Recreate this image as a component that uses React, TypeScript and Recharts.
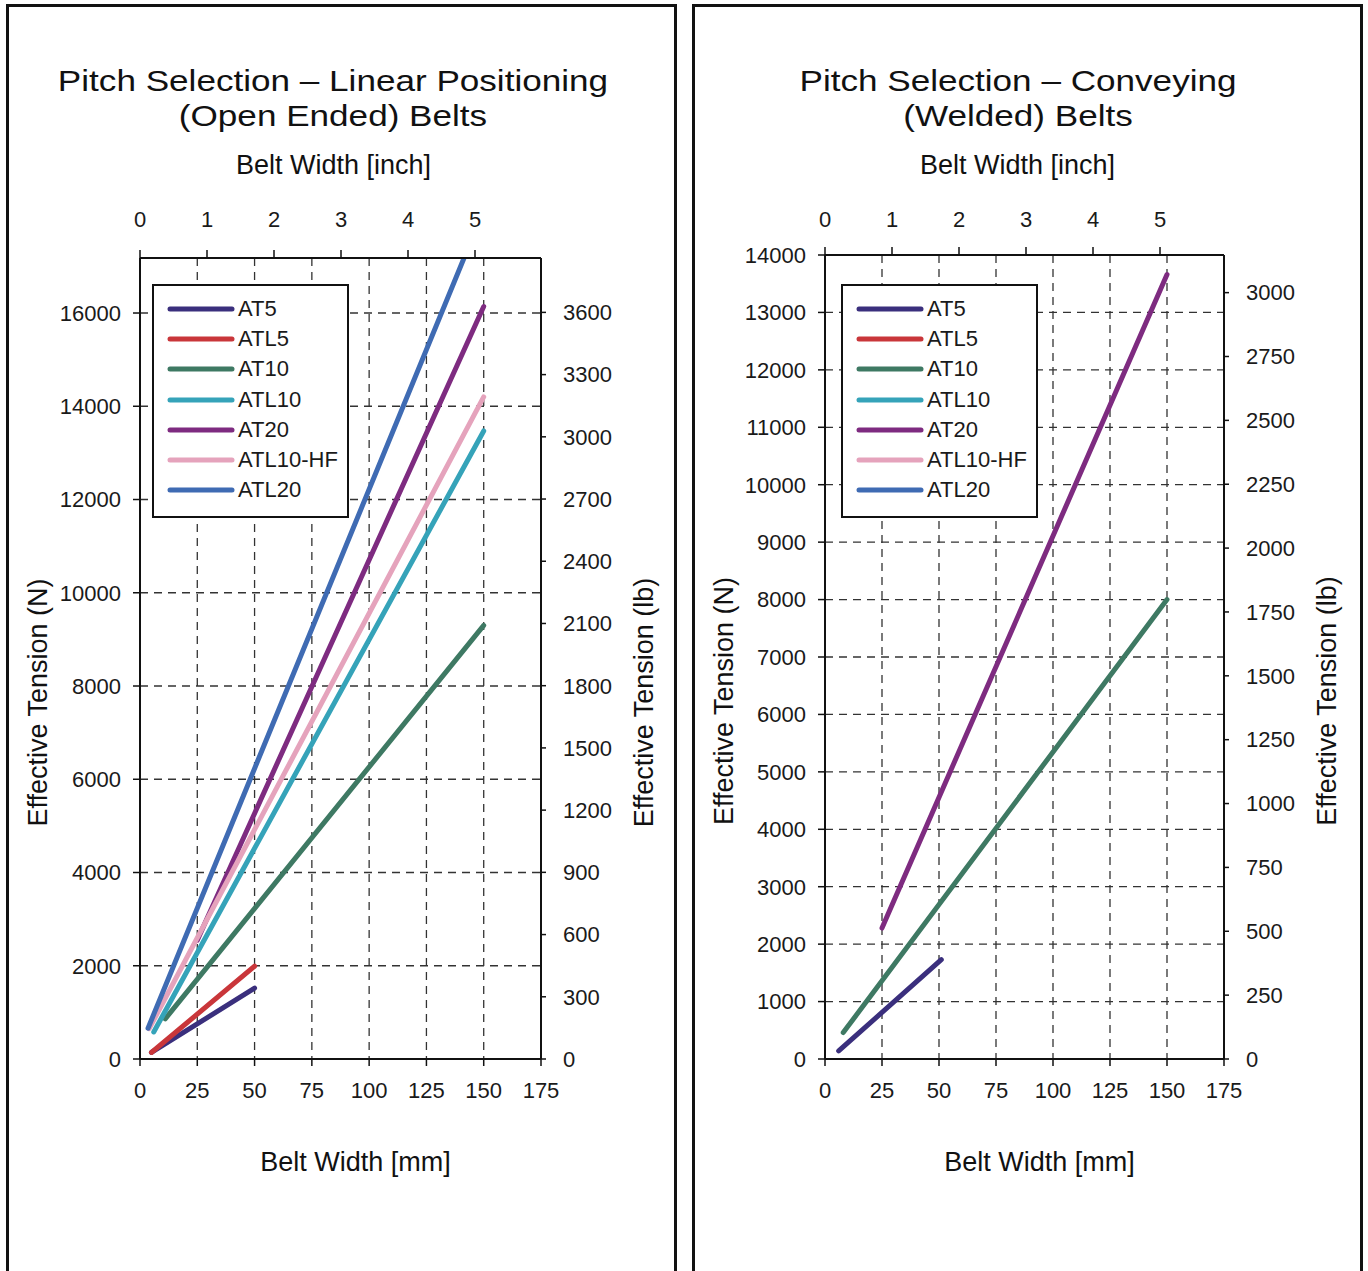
import React from 'react';
import {
  LineChart,
  Line,
  XAxis,
  YAxis,
  CartesianGrid,
  Legend,
  Label,
} from 'recharts';

const FONT = '"Liberation Sans", Arial, Helvetica, sans-serif';
const N_PER_LB = 4.44822;

const mmTicks = [0, 25, 50, 75, 100, 125, 150, 175];
const inchTicks = [0, 1, 2, 3, 4, 5];
const linearNTicks = [0, 2000, 4000, 6000, 8000, 10000, 12000, 14000, 16000];
const linearLbTicks = [0, 300, 600, 900, 1200, 1500, 1800, 2100, 2400, 2700, 3000, 3300, 3600];
const conveyNTicks = [0, 1000, 2000, 3000, 4000, 5000, 6000, 7000, 8000, 9000, 10000, 11000, 12000, 13000, 14000];
const conveyLbTicks = [0, 250, 500, 750, 1000, 1250, 1500, 1750, 2000, 2250, 2500, 2750, 3000];

const seriesNames = ['AT5', 'ATL5', 'AT10', 'ATL10', 'AT20', 'ATL10-HF', 'ATL20'];
const seriesColors = ['#3a2f7d', '#c9363a', '#3e7963', '#35a3b9', '#7e2b80', '#e5a3bc', '#3f6bb3'];

// linear positioning (open ended) - belt width mm / effective tension N
const lpAT5Mm = [5, 50];
const lpAT5N = [140, 1520];
const lpATL5Mm = [5, 50];
const lpATL5N = [140, 1990];
const lpAT10Mm = [11, 150];
const lpAT10N = [860, 9300];
const lpATL10Mm = [6, 150];
const lpATL10N = [580, 13470];
const lpAT20Mm = [25, 150];
const lpAT20N = [2550, 16140];
const lpATL10HFMm = [4, 150];
const lpATL10HFN = [650, 14200];
const lpATL20Mm = [3.5, 143];
const lpATL20N = [660, 17370];

// conveying (welded)
const cvAT5Mm = [6, 51];
const cvAT5N = [140, 1730];
const cvAT10Mm = [8, 150];
const cvAT10N = [460, 8000];
const cvAT20Mm = [25, 150];
const cvAT20N = [2280, 13660];

const zip = (mm: number[], n: number[]) => mm.map((m, i) => ({ mm: m, n: n[i] }));

const linearSeries = [
  { name: 'AT5', data: zip(lpAT5Mm, lpAT5N) },
  { name: 'ATL5', data: zip(lpATL5Mm, lpATL5N) },
  { name: 'AT10', data: zip(lpAT10Mm, lpAT10N) },
  { name: 'ATL10', data: zip(lpATL10Mm, lpATL10N) },
  { name: 'AT20', data: zip(lpAT20Mm, lpAT20N) },
  { name: 'ATL10-HF', data: zip(lpATL10HFMm, lpATL10HFN) },
  { name: 'ATL20', data: zip(lpATL20Mm, lpATL20N) },
];

const conveySeries = [
  { name: 'AT5', data: zip(cvAT5Mm, cvAT5N) },
  { name: 'AT10', data: zip(cvAT10Mm, cvAT10N) },
  { name: 'AT20', data: zip(cvAT20Mm, cvAT20N) },
];

// rows for the top (inch) axis
const inchRows = inchTicks.map((i) => ({ inch: i }));

const colorOf = (name: string) => seriesColors[seriesNames.indexOf(name)];

function LegendBox() {
  return (
    <div
      style={{
        width: 193,
        height: 222,
        border: '2px solid #111',
        background: '#fff',
        boxSizing: 'content-box',
        fontFamily: FONT,
        paddingTop: 8,
      }}
    >
      {seriesNames.map((name, i) => (
        <div key={name} style={{ display: 'flex', alignItems: 'center', height: 30.2 }}>
          <svg width={84} height={10} style={{ flex: 'none' }}>
            <line x1={16} y1={5} x2={78} y2={5} stroke={seriesColors[i]} strokeWidth={5} strokeLinecap="round" />
          </svg>
          <span style={{ fontSize: 22, color: '#1a1a1a', lineHeight: '22px' }}>{name}</span>
        </div>
      ))}
    </div>
  );
}

function AxisTitle(props: any) {
  const { viewBox, value, dx = 0, dy = 0, vertical = false, anchorX } = props;
  const x = anchorX !== undefined ? viewBox.x + anchorX : viewBox.x + viewBox.width / 2 + dx;
  const y = viewBox.y + (vertical ? viewBox.height / 2 : 0) + dy;
  return (
    <text
      x={x}
      y={y}
      textAnchor="middle"
      dominantBaseline="central"
      transform={vertical ? `rotate(-90, ${x}, ${y})` : undefined}
      style={{ fontSize: 27, fill: '#111', fontFamily: FONT }}
    >
      {value}
    </text>
  );
}

interface PanelProps {
  left: number;
  title1: string;
  title2: string;
  series: { name: string; data: { mm: number; n: number }[] }[];
  nMax: number;
  nTicks: number[];
  lbTicks: number[];
  leftAxisW: number;
  rightAxisW: number;
  topAxisH: number;
  inchMax: number;
  legendLeft: number;
}

const tickStyle = { fontSize: 22, fill: '#1a1a1a', fontFamily: FONT };
const axisLine = { stroke: '#111', strokeWidth: 2 };
const tickLine = { stroke: '#111', strokeWidth: 1.5 };

// the source font is wider than Liberation Sans, so the title is stretched a little
const titleLine = (top: number): React.CSSProperties => ({
  position: 'absolute',
  left: 0,
  top,
  width: 600,
  height: 34,
  textAlign: 'center',
  fontFamily: FONT,
  fontSize: 30,
  lineHeight: '34px',
  color: '#111',
  whiteSpace: 'nowrap',
  transform: 'scaleX(1.17)',
  transformOrigin: '50% 50%',
});

function Panel(p: PanelProps) {
  return (
    <div style={{ position: 'absolute', left: p.left, top: 0, width: 684, height: 1271 }}>
      <div
        style={{
          position: 'absolute',
          left: p.left === 0 ? 6 : 8,
          top: 4,
          width: 665,
          height: 1290,
          border: '3px solid #111',
        }}
      />
      <div style={{ position: 'absolute', left: p.left === 0 ? 33 : 34, top: 0 }}>
        <div style={titleLine(64)}>{p.title1}</div>
        <div style={titleLine(99)}>{p.title2}</div>
      </div>
      <div style={{ position: 'absolute', left: 0, top: 0 }}>
        <LineChart
          width={684}
          height={1271}
          data={inchRows}
          margin={{ top: 140, right: 0, bottom: 112, left: 0 }}
          style={{ fontFamily: FONT }}
        >
          <CartesianGrid
            xAxisId="mm"
            yAxisId="N"
            stroke="#333"
            strokeWidth={1.3}
            strokeDasharray="8 6"
          />
          <XAxis
            xAxisId="mm"
            dataKey="mm"
            type="number"
            domain={[0, 175]}
            ticks={mmTicks}
            allowDataOverflow
            height={100}
            tick={tickStyle}
            tickSize={7}
            tickMargin={16}
            axisLine={axisLine}
            tickLine={tickLine}
          >
            <Label content={<AxisTitle value="Belt Width [mm]" dx={15} dy={103} />} />
          </XAxis>
          <XAxis
            xAxisId="in"
            dataKey="inch"
            orientation="top"
            type="number"
            domain={[0, p.inchMax]}
            ticks={inchTicks}
            allowDataOverflow
            height={p.topAxisH}
            tick={tickStyle}
            tickSize={8}
            tickMargin={23 - (118 - p.topAxisH)}
            axisLine={axisLine}
            tickLine={tickLine}
          >
            <Label content={<AxisTitle value="Belt Width [inch]" dx={-7} dy={25} />} />
          </XAxis>
          <YAxis
            yAxisId="N"
            type="number"
            domain={[0, p.nMax]}
            ticks={p.nTicks}
            allowDataOverflow
            width={p.leftAxisW}
            tick={tickStyle}
            tickSize={7}
            tickMargin={12}
            axisLine={axisLine}
            tickLine={tickLine}
          >
            <Label content={<AxisTitle value="Effective Tension (N)" vertical anchorX={p.left === 0 ? 38 : 40} dy={44} />} />
          </YAxis>
          <YAxis
            yAxisId="lb"
            orientation="right"
            type="number"
            domain={[0, p.nMax / N_PER_LB]}
            ticks={p.lbTicks}
            allowDataOverflow
            width={p.rightAxisW}
            tick={tickStyle}
            tickSize={5}
            tickMargin={17}
            axisLine={axisLine}
            tickLine={tickLine}
          >
            <Label content={<AxisTitle value="Effective Tension (lb)" vertical anchorX={103} dy={44} />} />
          </YAxis>
          <Legend
            layout="vertical"
            align="center"
            verticalAlign="middle"
            content={() => <LegendBox />}
            wrapperStyle={{ left: p.legendLeft, top: 284, width: 'auto' }}
          />
          {p.series.map((s) => (
            <Line
              key={s.name}
              xAxisId="mm"
              yAxisId="N"
              data={s.data}
              dataKey="n"
              name={s.name}
              stroke={colorOf(s.name)}
              strokeWidth={5}
              strokeLinecap="round"
              dot={false}
              activeDot={false}
              isAnimationActive={false}
            />
          ))}
        </LineChart>
      </div>
    </div>
  );
}

export default function App() {
  return (
    <div style={{ position: 'relative', width: 1368, height: 1271, background: '#fff', overflow: 'hidden' }}>
      <style>{'body{margin:0;}'}</style>
      <Panel
        left={0}
        title1="Pitch Selection – Linear Positioning"
        title2="(Open Ended) Belts"
        series={linearSeries}
        nMax={17180}
        nTicks={linearNTicks}
        lbTicks={linearLbTicks}
        leftAxisW={140}
        rightAxisW={143}
        topAxisH={118}
        inchMax={401 / 67}
        legendLeft={152}
      />
      <Panel
        left={684}
        title1="Pitch Selection – Conveying"
        title2="(Welded) Belts"
        series={conveySeries}
        nMax={14000}
        nTicks={conveyNTicks}
        lbTicks={conveyLbTicks}
        leftAxisW={141}
        rightAxisW={144}
        topAxisH={115}
        inchMax={399 / 67}
        legendLeft={157}
      />
    </div>
  );
}
